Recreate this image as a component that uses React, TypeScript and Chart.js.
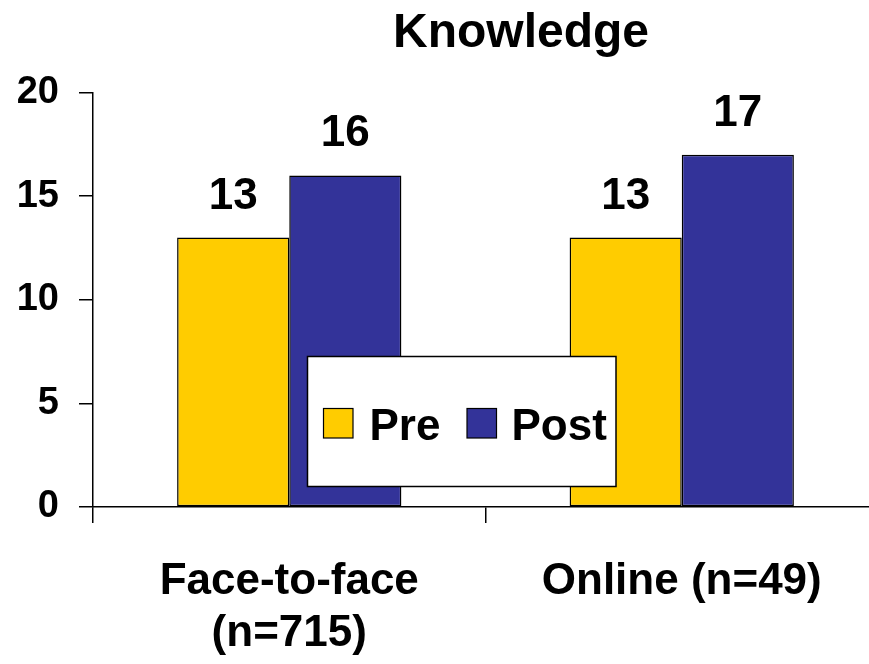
import React, { useEffect, useRef } from "react";
import { Chart, registerables } from "chart.js";

Chart.register(...registerables);

const categories: (string | string[])[] = [["Face-to-face", "(n=715)"], "Online (n=49)"];
const preValues = [13, 13];
const postValues = [16, 17];
const seriesNames = ["Pre", "Post"];
const seriesColors = ["#FFCC00", "#333399"];
const yTicks = [0, 5, 10, 15, 20];
const chartTitle = "Knowledge";

const FONT = "'Liberation Sans', Arial, sans-serif";

const overlayPlugin = {
  id: "overlay",
  afterDatasetsDraw(chart: any) {
    const ctx = chart.ctx;
    ctx.save();
    ctx.fillStyle = "#000";
    ctx.font = `bold 44px ${FONT}`;
    ctx.textAlign = "center";
    ctx.textBaseline = "alphabetic";
    chart.data.datasets.forEach((ds: any, i: number) => {
      const meta = chart.getDatasetMeta(i);
      meta.data.forEach((bar: any, j: number) => {
        ctx.fillText(String(ds.data[j]), bar.x, bar.y - 29);
      });
    });
    ctx.restore();
  },
  afterDraw(chart: any) {
    const ctx = chart.ctx;
    ctx.save();
    // title
    ctx.fillStyle = "#000";
    ctx.font = `bold 48px ${FONT}`;
    ctx.textAlign = "center";
    ctx.textBaseline = "alphabetic";
    ctx.fillText(chartTitle, 521, 47);
    // legend box
    ctx.fillStyle = "#fff";
    ctx.fillRect(307.5, 356.5, 308.5, 130);
    ctx.strokeStyle = "#000";
    ctx.lineWidth = 1.5;
    ctx.strokeRect(307.5, 356.5, 308.5, 130);
    const itemX = [[323.5, 369.5], [467, 511.5]];
    ctx.font = `bold 44px ${FONT}`;
    ctx.textAlign = "left";
    chart.data.datasets.forEach((ds: any, i: number) => {
      const [sx, tx] = itemX[i];
      ctx.fillStyle = ds.backgroundColor;
      ctx.fillRect(sx, 408.5, 29.5, 29.5);
      ctx.lineWidth = 1.2;
      ctx.strokeStyle = "#000";
      ctx.strokeRect(sx, 408.5, 29.5, 29.5);
      ctx.fillStyle = "#000";
      ctx.fillText(ds.label, tx, 440);
    });
    ctx.restore();
  },
};

export default function App() {
  const ref = useRef<HTMLCanvasElement>(null);
  useEffect(() => {
    if (!ref.current) return;
    const chart = new Chart(ref.current, {
      type: "bar",
      data: {
        labels: categories,
        datasets: [
          {
            label: seriesNames[0],
            data: preValues,
            backgroundColor: seriesColors[0],
            borderColor: "#000",
            borderWidth: 1.5,
            borderSkipped: false,
            categoryPercentage: 0.5714,
            barPercentage: 1.0,
          },
          {
            label: seriesNames[1],
            data: postValues,
            backgroundColor: seriesColors[1],
            borderColor: "#000",
            borderWidth: 1.5,
            borderSkipped: false,
            categoryPercentage: 0.5714,
            barPercentage: 1.0,
          },
        ],
      },
      options: {
        responsive: false,
        animation: false,
        devicePixelRatio: 1,
        layout: { padding: { top: 92.5, left: 0, right: 12, bottom: 0 } },
        plugins: {
          legend: { display: false },
          title: { display: false },
          tooltip: { enabled: false },
        },
        scales: {
          x: {
            grid: {
              display: true,
              drawOnChartArea: false,
              drawTicks: true,
              tickLength: 16,
              color: "#000",
              lineWidth: 1.5,
              offset: true,
            },
            border: { display: true, color: "#000", width: 1.5 },
            ticks: {
              color: "#000",
              font: { family: FONT, size: 44, weight: "bold", lineHeight: 1.18 },
              padding: 33,
              maxRotation: 0,
              autoSkip: false,
            },
            afterFit(scale: any) {
              scale.height = 157;
            },
          },
          y: {
            min: 0,
            max: 20,
            afterBuildTicks(scale: any) {
              scale.ticks = yTicks.map((v) => ({ value: v }));
            },
            grid: {
              display: true,
              drawOnChartArea: false,
              drawTicks: true,
              tickLength: 14,
              color: "#000",
              lineWidth: 1.5,
            },
            border: { display: true, color: "#000", width: 1.5 },
            ticks: {
              color: "#000",
              font: { family: FONT, size: 38, weight: "bold" },
              padding: 20,
            },
            afterFit(scale: any) {
              scale.width = 93;
            },
          },
        },
      },
      plugins: [overlayPlugin],
    } as any);
    return () => chart.destroy();
  }, []);
  return (
    <div
      style={{
        position: "absolute",
        left: 0,
        top: 0,
        width: 869,
        height: 664,
        overflow: "hidden",
        background: "#fff",
      }}
    >
      <canvas ref={ref} width={890} height={664} style={{ display: "block", width: 890, height: 664 }} />
    </div>
  );
}
